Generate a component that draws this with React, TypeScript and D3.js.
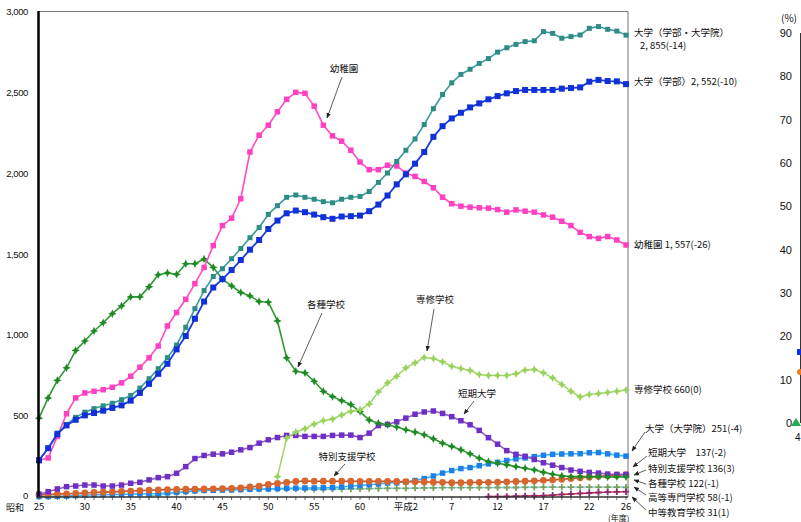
import React from "react";
import * as d3 from "d3";

const years: number[] = d3.range(1950, 2015);

const univTotal = [225,300,393,447,491,523,545,562,578,600,626,672,730,792,860,938,1048,1163,1275,1362,1410,1472,1535,1602,1665,1746,1800,1852,1866,1852,1840,1825,1818,1840,1852,1857,1888,1944,2002,2074,2143,2213,2302,2400,2488,2560,2612,2644,2680,2710,2750,2777,2798,2815,2820,2877,2866,2836,2846,2856,2897,2908,2891,2880,2855];
const univUnder = [225,300,387,441,476,503,518,532,549,565,594,642,698,760,822,911,994,1101,1207,1294,1346,1402,1464,1528,1588,1656,1708,1753,1770,1760,1745,1729,1719,1733,1735,1739,1766,1807,1863,1932,1994,2060,2132,2226,2292,2340,2375,2408,2433,2458,2478,2495,2509,2516,2516,2516,2516,2524,2528,2532,2567,2578,2571,2569,2552];
const kinder = [225,240,373,513,611,642,652,662,677,704,745,801,859,932,1056,1139,1221,1318,1418,1553,1677,1723,1843,2132,2236,2298,2381,2458,2501,2495,2416,2298,2232,2199,2143,2070,2023,2023,2050,2046,2002,1981,1950,1911,1853,1812,1797,1791,1787,1785,1776,1760,1774,1766,1760,1743,1729,1704,1677,1635,1609,1598,1609,1588,1557];
const misc = [486,611,719,797,905,963,1025,1076,1132,1180,1236,1236,1298,1373,1384,1375,1441,1441,1470,1418,1346,1304,1263,1242,1207,1203,1087,859,776,766,714,652,619,594,570,526,474,455,445,431,414,400,383,358,331,311,290,265,238,217,207,197,186,176,166,151,139,129,124,124,124,124,122,123,122];
const senshu = [null,null,null,null,null,null,null,null,null,null,null,null,null,null,null,null,null,null,null,null,null,null,null,null,null,null,124,362,400,420,449,470,480,505,528,538,573,648,704,745,797,828,861,855,834,807,793,781,756,750,750,750,760,783,787,766,735,694,652,617,632,638,645,652,660];
const junior = [15,31,48,62,66,72,72,66,66,72,83,89,104,118,124,145,186,236,255,263,265,275,290,304,331,352,366,379,379,373,373,373,379,381,381,366,393,440,447,463,486,510,524,530,515,495,470,445,410,365,325,285,262,250,230,210,195,180,165,157,150,146,140,138,137];
const grad = [1,1,2,4,7,10,12,13,14,15,16,17,18,20,24,28,32,36,39,40,41,42,44,46,48,48,50,52,53,54,54,55,56,60,65,70,74,79,85,86,92,100,112,128,146,162,174,180,192,203,212,224,234,240,248,256,262,264,265,266,272,273,265,257,251];
const special = [12,14,16,18,20,23,26,28,30,33,35,37,40,42,44,45,46,47,48,49,50,52,55,60,66,76,82,88,94,97,96,96,96,96,96,95,95,95,95,94,93,92,91,90,89,87,87,88,89,89,90,92,94,96,98,101,104,108,112,117,121,126,130,133,136];
const kosen = [null,null,null,null,null,null,null,null,null,null,null,null,3,10,16,22,29,35,40,43,44,45,46,47,47,47,47,47,47,46,46,46,47,48,48,49,50,51,52,52,52,53,54,55,56,56,56,56,56,56,57,57,57,58,58,59,59,59,59,59,59,59,59,59,58];
const chuto = [null,null,null,null,null,null,null,null,null,null,null,null,null,null,null,null,null,null,null,null,null,null,null,null,null,null,null,null,null,null,null,null,null,null,null,null,null,null,null,null,null,null,null,null,null,null,null,null,null,1,1,2,3,5,6,7,10,14,17,20,23,26,28,30,31];

const yTicks = [0, 500, 1000, 1500, 2000, 2500, 3000];
const xTickYears = [1950,1955,1960,1965,1970,1975,1980,1985,1990,1995,2000,2005,2010,2014];
const xTickLabels = ["25","30","35","40","45","50","55","60","平成2","7","12","17","22","26"];
const pctTicks = [0,10,20,30,40,50,60,70,80,90];

type Mk = "square" | "star" | "circle" | "plus";
interface S { name: string; values: (number|null)[]; line: string; fill: string; marker: Mk; size: number; width: number; }

const series: S[] = [
  { name: "高等専門学校", values: kosen, line: "#6fd0e0", fill: "#7f9f5c", marker: "plus", size: 3.2, width: 1.4 },
  { name: "中等教育学校", values: chuto, line: "#d0203a", fill: "#8a2a70", marker: "plus", size: 3.2, width: 1.4 },
  { name: "大学（大学院）", values: grad, line: "#35b8ff", fill: "#1f7fe8", marker: "square", size: 5.5, width: 1.6 },
  { name: "特別支援学校", values: special, line: "#b8553a", fill: "#d8652c", marker: "circle", size: 3.4, width: 1.6 },
  { name: "短期大学", values: junior, line: "#8a5cb8", fill: "#6f2ec8", marker: "square", size: 5.5, width: 1.6 },
  { name: "各種学校", values: misc, line: "#2e9a30", fill: "#1e8a26", marker: "star", size: 4.2, width: 1.6 },
  { name: "専修学校", values: senshu, line: "#a2d86a", fill: "#98d25c", marker: "star", size: 4.2, width: 1.6 },
  { name: "幼稚園", values: kinder, line: "#ff4cc4", fill: "#ff40c0", marker: "square", size: 5.5, width: 1.6 },
  { name: "大学（学部・大学院）", values: univTotal, line: "#3a9c9a", fill: "#2f8c84", marker: "square", size: 5, width: 1.6 },
  { name: "大学（学部）", values: univUnder, line: "#1a3ae0", fill: "#1030d8", marker: "square", size: 6, width: 1.8 },
];

const x = d3.scaleLinear().domain([1950, 2014]).range([39, 626]);
const y = d3.scaleLinear().domain([0, 3000]).range([496.7, 11.7]);
const yp = d3.scaleLinear().domain([0, 90]).range([423, 33]);

function starPath(r: number) {
  const k = r * 0.32;
  return `M0,${-r}L${k},${-k}L${r},0L${k},${k}L0,${r}L${-k},${k}L${-r},0L${-k},${-k}Z`;
}

function Marker({ m, cx, cy, s, fill }: { m: Mk; cx: number; cy: number; s: number; fill: string }) {
  if (m === "square") return <rect x={cx - s / 2} y={cy - s / 2} width={s} height={s} fill={fill} />;
  if (m === "circle") return <circle cx={cx} cy={cy} r={s} fill={fill} />;
  if (m === "star") return <path d={starPath(s)} transform={`translate(${cx},${cy})`} fill={fill} />;
  return <path d={`M${-s},0H${s}M0,${-s}V${s}`} transform={`translate(${cx},${cy})`} stroke={fill} strokeWidth={1.8} />;
}

const JP = "'Noto Sans CJK JP', 'Noto Sans', sans-serif";

const rightLabels = [
  { t: "大学（学部・大学院）", x: 634, y: 33 },
  { t: "2, 855(-14)", x: 640, y: 46 },
  { t: "大学（学部）2, 552(-10)", x: 634, y: 82 },
  { t: "幼稚園 1, 557(-26)", x: 634, y: 245 },
  { t: "専修学校 660(0)", x: 634, y: 390 },
  { t: "大学（大学院）251(-4)", x: 645, y: 429 },
  { t: "短期大学　137(-2)", x: 648, y: 453 },
  { t: "特別支援学校 136(3)", x: 648, y: 469 },
  { t: "各種学校 122(-1)", x: 648, y: 484 },
  { t: "高等専門学校 58(-1)", x: 648, y: 498 },
  { t: "中等教育学校 31(1)", x: 648, y: 513 },
];
const rightArrows = [
  [645, 432, 632, 451],
  [647, 456, 633, 467],
  [646, 470, 634, 475],
  [646, 484, 634, 480],
  [646, 495, 634, 487],
  [646, 510, 632, 497],
];
const innerLabels = [
  { t: "幼稚園", x: 344, y: 69, a: [342, 77, 327, 118] },
  { t: "各種学校", x: 326, y: 305, a: [322, 313, 298, 367] },
  { t: "専修学校", x: 435, y: 300, a: [434, 309, 427, 351] },
  { t: "短期大学", x: 477, y: 394, a: [474, 401, 464, 414] },
  { t: "特別支援学校", x: 347, y: 457, a: [345, 464, 334, 476] },
];

export default function App() {
  const line = d3.line<number | null>()
    .defined((d) => d !== null)
    .x((_, i) => x(years[i]))
    .y((d) => y(d as number));

  return (
    <svg width={801} height={522} style={{ position: "absolute", left: 0, top: 0, background: "#fff" }}>
      <defs>
        <marker id="ah" viewBox="0 0 10 10" refX="9" refY="5" markerWidth="7" markerHeight="7" orient="auto">
          <path d="M0,1L10,5L0,9Z" fill="#222" />
        </marker>
      </defs>
      <line x1={38} x2={628} y1={11.5} y2={11.5} stroke="#777" strokeWidth={1} />
      <line x1={628} x2={628} y1={11.5} y2={497} stroke="#777" strokeWidth={1} />
      {years.map((yr) => (
        <line key={yr} x1={x(yr)} x2={x(yr)} y1={496.7} y2={500} stroke="#444" strokeWidth={0.8} />
      ))}
      {series.map((s) => (
        <g key={s.name}>
          <path d={line(s.values) || ""} fill="none" stroke={s.line} strokeWidth={s.width} strokeLinejoin="round" />
          {s.values.map((v, i) =>
            v === null ? null : <Marker key={i} m={s.marker} cx={x(years[i])} cy={y(v)} s={s.size} fill={s.fill} />
          )}
        </g>
      ))}
      <line x1={38.5} x2={38.5} y1={11} y2={498} stroke="#000" strokeWidth={2.5} />
      <line x1={38} x2={628} y1={497} y2={497} stroke="#333" strokeWidth={1.5} />
      {yTicks.map((t) => (
        <text key={t} x={28} y={y(t) - (t === 0 ? 1 : 0)} dy="0.35em" textAnchor="end" fontFamily="'Liberation Sans', Arial, sans-serif" fontSize={9.5} letterSpacing={-0.4} fill="#111">
          {d3.format(",")(t)}
        </text>
      ))}
      {xTickYears.map((yr, i) => (
        <text key={yr} x={x(yr)} y={510} textAnchor="middle" fontFamily={JP} fontSize={9.5} fill="#111">
          {xTickLabels[i]}
        </text>
      ))}
      <text x={6} y={511} fontFamily={JP} fontSize={9} fill="#111">昭和</text>
      <text x={608} y={520.5} fontFamily={JP} fontSize={8} fill="#111">(年度)</text>
      {rightLabels.map((l, i) => (
        <text key={i} x={l.x} y={l.y} dy="0.35em" fontFamily={JP} fontSize={9.5} fill="#111">{l.t}</text>
      ))}
      {rightArrows.map((a, i) => (
        <line key={i} x1={a[0]} y1={a[1]} x2={a[2]} y2={a[3]} stroke="#333" strokeWidth={0.8} markerEnd="url(#ah)" />
      ))}
      {innerLabels.map((l, i) => (
        <g key={i}>
          <text x={l.x} y={l.y} dy="0.35em" textAnchor="middle" fontFamily={JP} fontSize={9.5} fill="#111">{l.t}</text>
          <line x1={l.a[0]} y1={l.a[1]} x2={l.a[2]} y2={l.a[3]} stroke="#333" strokeWidth={0.8} markerEnd="url(#ah)" />
        </g>
      ))}
      <text x={797} y={18} dy="0.35em" textAnchor="end" fontFamily={JP} fontSize={10} fill="#111">(%)</text>
      <line x1={800.5} x2={800.5} y1={33} y2={423} stroke="#333" strokeWidth={1} />
      {pctTicks.map((t) => (
        <text key={t} x={792} y={yp(t)} dy="0.35em" textAnchor="end" fontFamily="'Liberation Sans', Arial, sans-serif" fontSize={11} fill="#111">{t}</text>
      ))}
      <rect x={797} y={349} width={5} height={6} fill="#1030d8" />
      <circle cx={800} cy={372} r={3} fill="#f07a20" />
      <path d="M791,426L796,418L801,426Z" fill="#22aa55" />
      <text x={795} y={437} dy="0.35em" fontFamily="'Liberation Sans', Arial, sans-serif" fontSize={10} fill="#111">4</text>
    </svg>
  );
}
